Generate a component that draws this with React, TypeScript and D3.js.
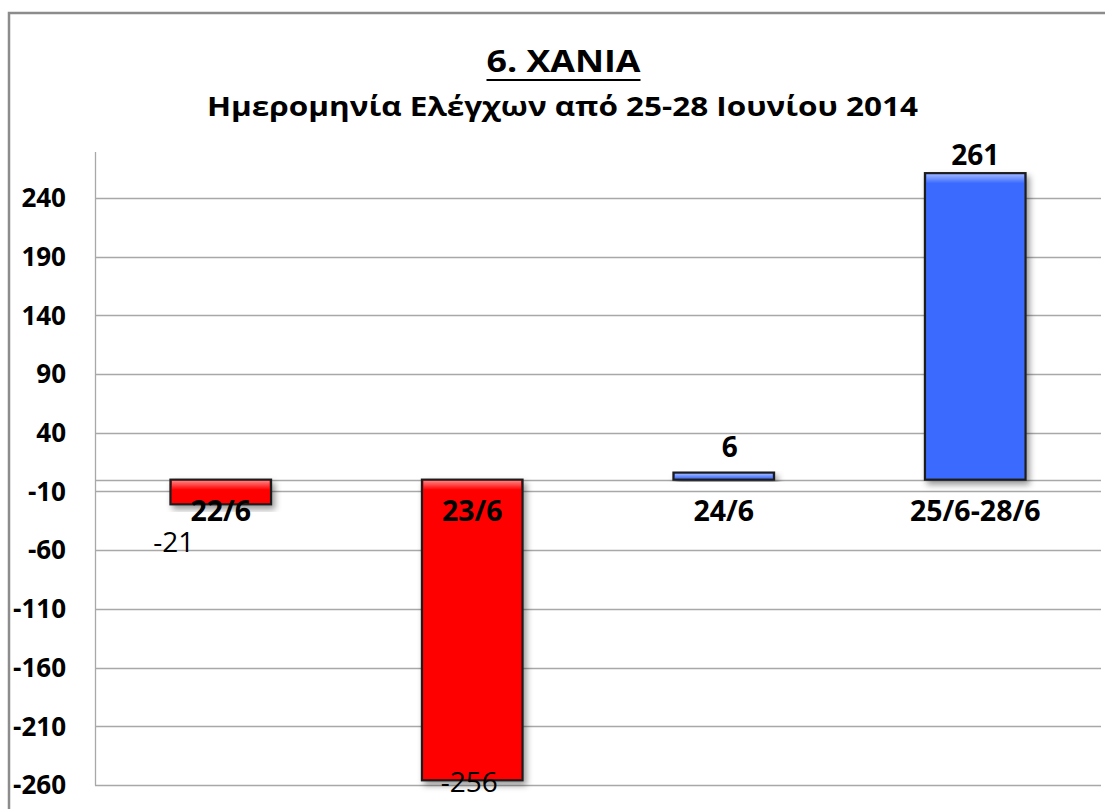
import React, { useEffect, useRef } from 'react';
import * as d3 from 'd3';

// ---- data ----
const categories: string[] = ['22/6', '23/6', '24/6', '25/6-28/6'];
const values: number[] = [-21, -256, 6, 261];
const yTickValues: number[] = [-260, -210, -160, -110, -60, -10, 40, 90, 140, 190, 240];
const titleText = '6. ΧΑΝΙΑ';
const subtitleText = 'Ημερομηνία Ελέγχων από 25-28 Ιουνίου 2014';

// ---- layout ----
const W = 1105;
const H = 809;
const PLOT = { left: 95, right: 1101, top: 152, bottom: 785 };
const Y_DOMAIN: [number, number] = [-260, 279];
const FONT = '"Open Sans", "Noto Sans", "DejaVu Sans", sans-serif';
const RED = '#ff0000';
const BLUE = '#3a6afe';
const GRID = '#a8a8a8';
// manual label nudges (dx, dy) per category index, like the moved labels in the original
const LABEL_NUDGE: [number, number][] = [[-47, 36], [-3, 0], [6, 0], [0, 8]];

export default function App() {
  const ref = useRef<SVGSVGElement>(null);

  useEffect(() => {
    const svg = d3.select(ref.current!);
    svg.selectAll('*').remove();

    const defs = svg.append('defs');
    const f = defs.append('filter').attr('id', 'shadow').attr('x', '-20%').attr('y', '-20%').attr('width', '150%').attr('height', '150%');
    f.append('feDropShadow').attr('dx', 3).attr('dy', 4).attr('stdDeviation', 3)
      .attr('flood-color', '#000').attr('flood-opacity', 0.4);
    const g1 = defs.append('linearGradient').attr('id', 'bevel').attr('x1', 0).attr('y1', 0).attr('x2', 0).attr('y2', 1);
    g1.append('stop').attr('offset', '0%').attr('stop-color', '#fff').attr('stop-opacity', 0.5);
    g1.append('stop').attr('offset', '100%').attr('stop-color', '#fff').attr('stop-opacity', 0);

    // outer frame
    svg.append('rect').attr('x', 9).attr('y', 13).attr('width', W + 100).attr('height', H + 100)
      .attr('fill', '#fff').attr('stroke', '#8c8c8c').attr('stroke-width', 2.5);

    const fit = (sel: d3.Selection<SVGTextElement, unknown, null, undefined>, target: number) => {
      const n = sel.node()!;
      const w = n.getComputedTextLength();
      if (Math.abs(w - target) > 2) sel.attr('textLength', target).attr('lengthAdjust', 'spacingAndGlyphs');
    };

    // title
    const cx = 563.5;
    const t = svg.append('text').attr('x', cx).attr('y', 72).attr('text-anchor', 'middle')
      .attr('font-family', FONT).attr('font-weight', 700).attr('font-size', 30).attr('fill', '#000')
      .text(titleText);
    fit(t as any, 154);
    svg.append('line').attr('x1', cx - 77).attr('x2', cx + 77).attr('y1', 80).attr('y2', 80)
      .attr('stroke', '#000').attr('stroke-width', 2.2);

    const st = svg.append('text').attr('x', 562.5).attr('y', 116).attr('text-anchor', 'middle')
      .attr('font-family', FONT).attr('font-weight', 700).attr('font-size', 27.5).attr('fill', '#000')
      .text(subtitleText);
    fit(st as any, 711);

    const x = d3.scaleBand<string>().domain(categories).range([PLOT.left, PLOT.right])
      .paddingInner(0.6).paddingOuter(0.3);
    const y = d3.scaleLinear().domain(Y_DOMAIN).range([PLOT.bottom, PLOT.top]);

    // gridlines
    svg.append('g').selectAll('line').data(yTickValues).join('line')
      .attr('x1', PLOT.left).attr('x2', PLOT.right)
      .attr('y1', (d) => Math.round(y(d)) + 0.5).attr('y2', (d) => Math.round(y(d)) + 0.5)
      .attr('stroke', GRID).attr('stroke-width', 1.3);
    // zero (category axis) line
    svg.append('line').attr('x1', PLOT.left).attr('x2', PLOT.right)
      .attr('y1', Math.round(y(0)) + 0.5).attr('y2', Math.round(y(0)) + 0.5)
      .attr('stroke', GRID).attr('stroke-width', 1.3);
    // value axis line
    svg.append('line').attr('x1', PLOT.left + 0.5).attr('x2', PLOT.left + 0.5)
      .attr('y1', PLOT.top).attr('y2', PLOT.bottom + 0.5)
      .attr('stroke', GRID).attr('stroke-width', 1.3);

    // tick labels
    svg.append('g').selectAll('text').data(yTickValues).join('text')
      .attr('x', 66).attr('y', (d) => y(d)).attr('dy', '0.36em').attr('text-anchor', 'end')
      .attr('font-family', FONT).attr('font-weight', 700).attr('font-size', 26).attr('fill', '#000')
      .text((d) => String(d));

    // bars
    const bars = svg.append('g');
    categories.forEach((c, i) => {
      const v = values[i];
      const y0 = y(Math.max(v, 0));
      const y1 = y(Math.min(v, 0));
      const bx = x(c)!;
      const bw = x.bandwidth();
      const fill = v < 0 ? RED : BLUE;
      bars.append('rect').attr('x', bx).attr('y', y0).attr('width', bw).attr('height', y1 - y0)
        .attr('fill', fill).attr('stroke', '#1e1e1e').attr('stroke-width', 2.2).attr('filter', 'url(#shadow)');
      const bh = Math.min(9, (y1 - y0) - 2);
      if (bh > 1) {
        bars.append('rect').attr('x', bx + 1.5).attr('y', y0 + 1.2).attr('width', bw - 3).attr('height', bh)
          .attr('fill', 'url(#bevel)');
      }
    });

    // category labels
    svg.append('g').selectAll('text').data(categories).join('text')
      .attr('x', (d) => x(d)! + x.bandwidth() / 2)
      .attr('y', y(0) + 41)
      .attr('text-anchor', 'middle')
      .attr('font-family', FONT).attr('font-weight', 700).attr('font-size', 28.5).attr('fill', '#000')
      .text((d) => d);

    // value labels
    svg.append('g').selectAll('text').data(values).join('text')
      .attr('x', (d, i) => x(categories[i])! + x.bandwidth() / 2 + LABEL_NUDGE[i][0])
      .attr('y', (d, i) => (d >= 0 ? y(d) - 16 : y(d) + 12) + LABEL_NUDGE[i][1])
      .attr('text-anchor', 'middle')
      .attr('font-family', FONT).attr('font-weight', (d) => (d >= 0 ? 700 : 400)).attr('font-size', 28)
      .attr('fill', '#000')
      .text((d) => String(d));
  }, []);

  return (
    <svg ref={ref} width={W} height={H}
      style={{ position: 'absolute', left: 0, top: 0, background: '#fff', display: 'block' }} />
  );
}
